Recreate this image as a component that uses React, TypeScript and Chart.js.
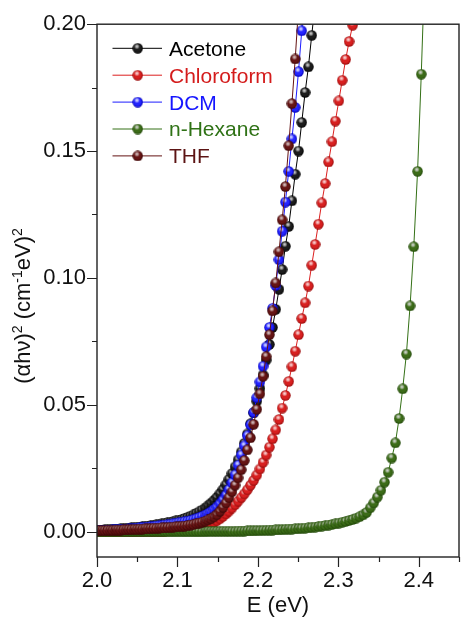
import React, { useEffect, useRef } from 'react';
import { Chart, registerables } from 'chart.js';

Chart.register(...registerables);

// Photon energy grid (eV)
const energy = [
  2.0000, 2.0032, 2.0065, 2.0097, 2.0130, 2.0163, 2.0195, 2.0228, 2.0261, 2.0295,
  2.0328, 2.0361, 2.0395, 2.0428, 2.0462, 2.0496, 2.0530, 2.0564, 2.0598, 2.0632,
  2.0667, 2.0701, 2.0736, 2.0771, 2.0805, 2.0840, 2.0875, 2.0911, 2.0946, 2.0981,
  2.1017, 2.1053, 2.1088, 2.1124, 2.1160, 2.1197, 2.1233, 2.1269, 2.1306, 2.1343,
  2.1379, 2.1416, 2.1453, 2.1490, 2.1528, 2.1565, 2.1603, 2.1640, 2.1678, 2.1716,
  2.1754, 2.1793, 2.1831, 2.1869, 2.1908, 2.1947, 2.1986, 2.2025, 2.2064, 2.2103,
  2.2143, 2.2182, 2.2222, 2.2262, 2.2302, 2.2342, 2.2383, 2.2423, 2.2464, 2.2505,
  2.2545, 2.2587, 2.2628, 2.2669, 2.2711, 2.2752, 2.2794, 2.2836, 2.2878, 2.2921,
  2.2963, 2.3006, 2.3048, 2.3091, 2.3134, 2.3178, 2.3221, 2.3265, 2.3308, 2.3352,
  2.3396, 2.3440, 2.3485, 2.3529, 2.3574, 2.3619, 2.3664, 2.3709, 2.3755, 2.3800,
  2.3846, 2.3892, 2.3938, 2.3985, 2.4031, 2.4078,
];

const acetone = [
  0.0005, 0.0006, 0.0006, 0.0007, 0.0007, 0.0008, 0.0009, 0.0009, 0.0010, 0.0011,
  0.0012, 0.0013, 0.0014, 0.0015, 0.0016, 0.0017, 0.0018, 0.0019, 0.0021, 0.0022,
  0.0024, 0.0025, 0.0027, 0.0029, 0.0031, 0.0033, 0.0035, 0.0037, 0.0040, 0.0042,
  0.0045, 0.0048, 0.0052, 0.0056, 0.0061, 0.0066, 0.0072, 0.0078, 0.0085, 0.0093,
  0.0102, 0.0112, 0.0123, 0.0135, 0.0150, 0.0166, 0.0185, 0.0206, 0.0229, 0.0255,
  0.0283, 0.0314, 0.0348, 0.0385, 0.0425, 0.0468, 0.0514, 0.0564, 0.0618, 0.0676,
  0.0738, 0.0805, 0.0876, 0.0955, 0.1033, 0.1125, 0.1203, 0.1304, 0.1409, 0.1500,
  0.1613, 0.1731, 0.1832, 0.1956, 0.2080,
];

const chloroform = [
  0.0000, 0.0000, 0.0000, 0.0000, 0.0000, 0.0000, 0.0000, 0.0000, 0.0000, 0.0000,
  0.0000, 0.0000, 0.0000, 0.0000, 0.0000, 0.0001, 0.0001, 0.0001, 0.0001, 0.0001,
  0.0001, 0.0001, 0.0001, 0.0002, 0.0002, 0.0002, 0.0003, 0.0003, 0.0004, 0.0004,
  0.0005, 0.0006, 0.0007, 0.0008, 0.0009, 0.0011, 0.0013, 0.0015, 0.0018, 0.0021,
  0.0025, 0.0030, 0.0036, 0.0043, 0.0051, 0.0060, 0.0070, 0.0081, 0.0093, 0.0106,
  0.0120, 0.0134, 0.0149, 0.0165, 0.0183, 0.0202, 0.0223, 0.0247, 0.0273, 0.0302,
  0.0333, 0.0366, 0.0401, 0.0442, 0.0487, 0.0537, 0.0592, 0.0650, 0.0711, 0.0776,
  0.0840, 0.0902, 0.0968, 0.1050, 0.1132, 0.1212, 0.1296, 0.1372, 0.1457, 0.1537,
  0.1618, 0.1698, 0.1779, 0.1861, 0.1932, 0.1996, 0.2075,
];

const dcm = [
  0.0004, 0.0005, 0.0005, 0.0005, 0.0006, 0.0006, 0.0007, 0.0007, 0.0008, 0.0009,
  0.0009, 0.0010, 0.0011, 0.0012, 0.0013, 0.0014, 0.0015, 0.0016, 0.0017, 0.0018,
  0.0019, 0.0020, 0.0022, 0.0023, 0.0024, 0.0026, 0.0027, 0.0029, 0.0031, 0.0033,
  0.0035, 0.0037, 0.0039, 0.0041, 0.0044, 0.0047, 0.0051, 0.0055, 0.0060, 0.0065,
  0.0071, 0.0078, 0.0087, 0.0097, 0.0110, 0.0125, 0.0144, 0.0166, 0.0193, 0.0224,
  0.0262, 0.0302, 0.0338, 0.0378, 0.0421, 0.0470, 0.0528, 0.0590, 0.0652, 0.0728,
  0.0805, 0.0880, 0.0970, 0.1072, 0.1184, 0.1299, 0.1420, 0.1548, 0.1672, 0.1813,
  0.1974, 0.2140,
];

const hexane = [
  0.0000, 0.0000, 0.0000, 0.0000, 0.0000, 0.0000, 0.0000, 0.0000, 0.0000, 0.0000,
  0.0000, 0.0000, 0.0000, 0.0000, 0.0000, 0.0000, 0.0000, 0.0000, 0.0000, 0.0000,
  0.0000, 0.0000, 0.0000, 0.0000, 0.0000, 0.0000, 0.0000, 0.0000, 0.0000, 0.0000,
  0.0000, 0.0000, 0.0000, 0.0000, 0.0000, 0.0000, 0.0000, 0.0000, 0.0000, 0.0000,
  0.0001, 0.0001, 0.0001, 0.0001, 0.0001, 0.0001, 0.0001, 0.0001, 0.0001, 0.0001,
  0.0002, 0.0002, 0.0002, 0.0003, 0.0003, 0.0003, 0.0004, 0.0004, 0.0005, 0.0005,
  0.0006, 0.0006, 0.0007, 0.0007, 0.0008, 0.0009, 0.0010, 0.0010, 0.0011, 0.0012,
  0.0013, 0.0014, 0.0015, 0.0017, 0.0018, 0.0020, 0.0022, 0.0024, 0.0026, 0.0028,
  0.0031, 0.0034, 0.0037, 0.0040, 0.0044, 0.0048, 0.0053, 0.0059, 0.0066, 0.0076,
  0.0094, 0.0113, 0.0136, 0.0163, 0.0195, 0.0234, 0.0290, 0.0350, 0.0446, 0.0563,
  0.0700, 0.0890, 0.1123, 0.1420, 0.1803, 0.2250,
];

const thf = [
  0.0003, 0.0004, 0.0004, 0.0004, 0.0005, 0.0005, 0.0005, 0.0006, 0.0006, 0.0006,
  0.0007, 0.0007, 0.0008, 0.0008, 0.0009, 0.0009, 0.0010, 0.0010, 0.0011, 0.0011,
  0.0012, 0.0013, 0.0013, 0.0014, 0.0015, 0.0015, 0.0016, 0.0017, 0.0018, 0.0019,
  0.0020, 0.0021, 0.0022, 0.0024, 0.0026, 0.0028, 0.0031, 0.0034, 0.0037, 0.0041,
  0.0046, 0.0051, 0.0058, 0.0067, 0.0080, 0.0095, 0.0113, 0.0134, 0.0157, 0.0183,
  0.0212, 0.0244, 0.0280, 0.0322, 0.0370, 0.0423, 0.0482, 0.0543, 0.0612, 0.0690,
  0.0776, 0.0870, 0.0980, 0.1103, 0.1229, 0.1360, 0.1521, 0.1687, 0.1863, 0.2065,
];

const seriesNames = ['Acetone', 'Chloroform', 'DCM', 'n-Hexane', 'THF'];
const seriesValues = [acetone, chloroform, dcm, hexane, thf];

const xTicks = [2.0, 2.1, 2.2, 2.3, 2.4];
const xMinorTicks = [2.05, 2.15, 2.25, 2.35, 2.45];
const yTicks = [0.0, 0.05, 0.1, 0.15, 0.2];
const yMinorTicks = [0.025, 0.075, 0.125, 0.175];
const xTitle = 'E (eV)';
const yTitleParts = [
  { text: '(αhν)', sup: false },
  { text: '2', sup: true },
  { text: ' (cm', sup: false },
  { text: '-1', sup: true },
  { text: 'eV)', sup: false },
  { text: '2', sup: true },
];

const FONT = '"Liberation Sans", Arial, Helvetica, sans-serif';

const styles = [
  { line: '#000000', text: '#000000', base: '#1c1c1c', dark: '#000000', hi: '#d8d8d8' },
  { line: '#dc1f1f', text: '#d41c1c', base: '#d82020', dark: '#9a0c0c', hi: '#fbe0e0' },
  { line: '#1c1cff', text: '#1515ff', base: '#2424ff', dark: '#0000b4', hi: '#e4e8ff' },
  { line: '#347016', text: '#2f7216', base: '#3c6c18', dark: '#234a0a', hi: '#dcdcdc' },
  { line: '#641212', text: '#5c1414', base: '#661414', dark: '#3c0606', hi: '#dccccc' },
];

function makeBall(base: string, dark: string, hi: string, size = 11): HTMLCanvasElement {
  const c = document.createElement('canvas');
  c.width = size;
  c.height = size;
  const g = c.getContext('2d')!;
  const cx = size / 2;
  const cy = size / 2;
  const r = size / 2 - 0.3;
  const body = g.createRadialGradient(cx - r * 0.2, cy - r * 0.3, 0, cx, cy, r);
  body.addColorStop(0, base);
  body.addColorStop(0.7, base);
  body.addColorStop(1, dark);
  g.beginPath();
  g.arc(cx, cy, r, 0, Math.PI * 2);
  g.fillStyle = body;
  g.fill();
  const hx = cx - r * 0.15;
  const hy = cy - r * 0.35;
  const spot = g.createRadialGradient(hx, hy, 0, hx, hy, r * 0.55);
  spot.addColorStop(0, hi);
  spot.addColorStop(0.45, hi + 'aa');
  spot.addColorStop(1, hi + '00');
  g.beginPath();
  g.arc(cx, cy, r, 0, Math.PI * 2);
  g.fillStyle = spot;
  g.fill();
  return c;
}

export default function App() {
  const ref = useRef<HTMLCanvasElement>(null);

  useEffect(() => {
    const canvas = ref.current!;
    const balls = styles.map((s) => makeBall(s.base, s.dark, s.hi));

    const datasets = seriesNames.map((name, i) => ({
      label: name,
      data: seriesValues[i].map((v, k) => ({ x: energy[k], y: v })),
      showLine: true,
      borderColor: styles[i].line,
      backgroundColor: styles[i].base,
      borderWidth: 1,
      pointStyle: balls[i] as any,
      pointRadius: 5,
      tension: 0,
      order: seriesNames.length - i,
    }));

    const decorPlugin = {
      id: 'decor',
      afterDraw(chart: any) {
        const { ctx, chartArea, scales } = chart;
        const { left, right, top, bottom } = chartArea;
        const xs = scales.x;
        const ys = scales.y;
        ctx.save();
        // frame
        ctx.strokeStyle = '#222';
        ctx.lineWidth = 1.4;
        ctx.strokeRect(left, top, right - left, bottom - top);
        // ticks
        ctx.lineWidth = 1.2;
        ctx.beginPath();
        xTicks.forEach((v) => {
          const p = Math.round(xs.getPixelForValue(v)) + 0.5;
          ctx.moveTo(p, bottom);
          ctx.lineTo(p, bottom + 10);
        });
        xMinorTicks.forEach((v) => {
          const p = Math.round(xs.getPixelForValue(v)) + 0.5;
          ctx.moveTo(p, bottom);
          ctx.lineTo(p, bottom + 5);
        });
        yTicks.forEach((v) => {
          const p = Math.round(ys.getPixelForValue(v)) + 0.5;
          ctx.moveTo(left, p);
          ctx.lineTo(left - 10, p);
        });
        yMinorTicks.forEach((v) => {
          const p = Math.round(ys.getPixelForValue(v)) + 0.5;
          ctx.moveTo(left, p);
          ctx.lineTo(left - 5, p);
        });
        ctx.stroke();

        // y-axis title with superscripts
        ctx.fillStyle = '#111';
        ctx.textBaseline = 'alphabetic';
        ctx.textAlign = 'left';
        let total = 0;
        yTitleParts.forEach((p) => {
          ctx.font = (p.sup ? '14px ' : '22px ') + FONT;
          total += ctx.measureText(p.text).width;
        });
        const centerY = 306;
        ctx.translate(30, centerY + total / 2);
        ctx.rotate(-Math.PI / 2);
        let cur = 0;
        yTitleParts.forEach((p) => {
          ctx.font = (p.sup ? '14px ' : '22px ') + FONT;
          ctx.fillText(p.text, cur, p.sup ? -8 : 0);
          cur += ctx.measureText(p.text).width;
        });
        ctx.setTransform(1, 0, 0, 1, 0, 0);

        // legend
        const rowBase = 55.7;
        const rowStep = 26.9;
        seriesNames.forEach((name, i) => {
          const base = rowBase + i * rowStep;
          const cy = base - 7.4;
          ctx.strokeStyle = styles[i].line;
          ctx.lineWidth = 1;
          ctx.beginPath();
          ctx.moveTo(112.5, cy);
          ctx.lineTo(162, cy);
          ctx.stroke();
          const b = balls[i];
          ctx.drawImage(b, 137.7 - b.width / 2, cy - b.height / 2);
          ctx.fillStyle = styles[i].text;
          ctx.font = '21px ' + FONT;
          ctx.textBaseline = 'alphabetic';
          ctx.fillText(name, 169, base);
        });
        ctx.restore();
      },
    };

    const chart = new Chart(canvas, {
      type: 'scatter',
      data: { datasets: datasets as any },
      options: {
        animation: false,
        responsive: false,
        devicePixelRatio: 1,
        events: [],
        layout: { padding: { left: 0, right: 1, top: 22, bottom: 0 } },
        plugins: {
          legend: { display: false },
          tooltip: { enabled: false },
        },
        scales: {
          x: {
            type: 'linear',
            min: 2.0,
            max: 2.45,
            afterBuildTicks: (s: any) => {
              s.ticks = xTicks.map((v) => ({ value: v }));
            },
            afterFit: (s: any) => {
              s.height = 63;
            },
            grid: { display: false, drawTicks: false },
            border: { display: false },
            ticks: {
              padding: 11,
              autoSkip: false,
              maxRotation: 0,
              color: '#111',
              font: { size: 22, family: FONT },
              callback: (v: any) => Number(v).toFixed(1),
            },
            title: {
              display: true,
              text: xTitle,
              color: '#111',
              font: { size: 22, family: FONT },
              padding: { top: 0, bottom: 1 },
            },
          },
          y: {
            type: 'linear',
            min: -0.01,
            max: 0.2,
            afterBuildTicks: (s: any) => {
              s.ticks = yTicks.map((v) => ({ value: v }));
            },
            afterFit: (s: any) => {
              s.width = 97;
            },
            grid: { display: false, drawTicks: false },
            border: { display: false },
            ticks: {
              padding: 11,
              autoSkip: false,
              color: '#111',
              font: { size: 22, family: FONT },
              callback: (v: any) => Number(v).toFixed(2),
            },
          },
        },
      },
      plugins: [decorPlugin],
    });

    return () => chart.destroy();
  }, []);

  return (
    <div style={{ position: 'absolute', left: 0, top: 0, width: 465, height: 620, background: '#fff' }}>
      <canvas ref={ref} width={465} height={620} style={{ display: 'block' }} />
    </div>
  );
}
